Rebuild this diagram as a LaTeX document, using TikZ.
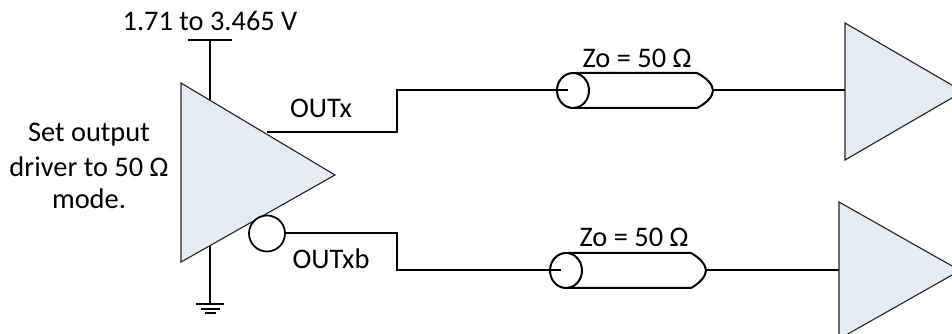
\documentclass[tikz,border=0pt]{standalone}
\usepackage{fontspec}
\setmainfont{Carlito}
\definecolor{ampfill}{HTML}{E6ECF6}
\tikzset{
  amp/.style={draw=black!85,line width=0.85pt,fill=ampfill,line join=miter},
  wire/.style={draw=black,line width=1.5pt,line join=miter},
  gnd/.style={draw=black,line width=1.2pt},
  lbl/.style={font=\fontsize{21.3}{24}\selectfont,inner sep=0pt,text=black,align=center}
}
\begin{document}
\begin{tikzpicture}[x=0.75pt,y=-0.75pt]
\useasboundingbox (0,0) rectangle (952,334);
\clip (0,0) rectangle (952,334);
% named points
\coordinate (vt) at (210,40);
\coordinate (vl) at (188,40);
\coordinate (vr) at (232,40);
\coordinate (vb) at (210,100);
\coordinate (gt) at (210,245);
\coordinate (gb) at (210,304);
\coordinate (o1) at (267,132);
\coordinate (o2) at (397,132);
\coordinate (o3) at (397,90);
\coordinate (c1) at (568,90);
\coordinate (c2) at (713,90.5);
\coordinate (r1) at (845,90.5);
\coordinate (n1) at (285,233);
\coordinate (n2) at (397,233);
\coordinate (n3) at (397,270);
\coordinate (d1) at (561,270);
\coordinate (d2) at (706,270.5);
\coordinate (r2) at (839,270.5);
% wires behind
\draw[wire,line width=1.2pt] (vl) -- (vr);
\draw[wire] (vt) -- (vb);
\draw[wire] (gt) -- (gb);
\draw[gnd] (196,304) -- (224,304);
\draw[gnd] (201,309) -- (220,309);
\draw[gnd] (205,313) -- (216,313);
% main amp
\filldraw[amp] (181,83) -- (335,175) -- (181,262) -- cycle;
\draw[wire] (o1) -- (o2) -- (o3) -- (c1);
\draw[wire,line width=1.3pt,fill=white] (267,233.5) circle [x radius=18,y radius=18];
\draw[wire] (n1) -- (n2) -- (n3) -- (d1);
% cable 1
\draw[wire] (575,73) -- (697,73) .. controls (707,78) and (713,85) .. (c2) .. controls (713,96) and (707,103) .. (697,108) -- (575,108);
\draw[wire] (573,90.5) circle [x radius=16,y radius=17.5];
\draw[wire] (c2) -- (r1);
% cable 2
\draw[wire] (568,253) -- (691,253) .. controls (700,258) and (706,265) .. (d2) .. controls (706,276) and (700,283) .. (691,288) -- (568,288);
\draw[wire] (566,270.5) circle [x radius=16,y radius=17.5];
\draw[wire] (d2) -- (r2);
% receivers
\filldraw[amp] (845,23) -- (963,91.5) -- (845,160) -- cycle;
\filldraw[amp] (839,202) -- (960,270.5) -- (839,339) -- cycle;
% labels
\node[lbl] (vlab) at (210,21) {1.71 to 3.465 V};
\node[lbl] (set) at (89,135) {Set output};
\node[lbl] (set2) at (89,167) {driver to 50 Ω};
\node[lbl] (set3) at (89,199) {mode.};
\node[lbl] (ox) at (321,108) {OUTx};
\node[lbl] (oxb) at (331,259) {OUTxb};
\node[lbl] (z1) at (637,58) {Zo = 50 Ω};
\node[lbl] (z2) at (634,237) {Zo = 50 Ω};
\end{tikzpicture}
\end{document}
